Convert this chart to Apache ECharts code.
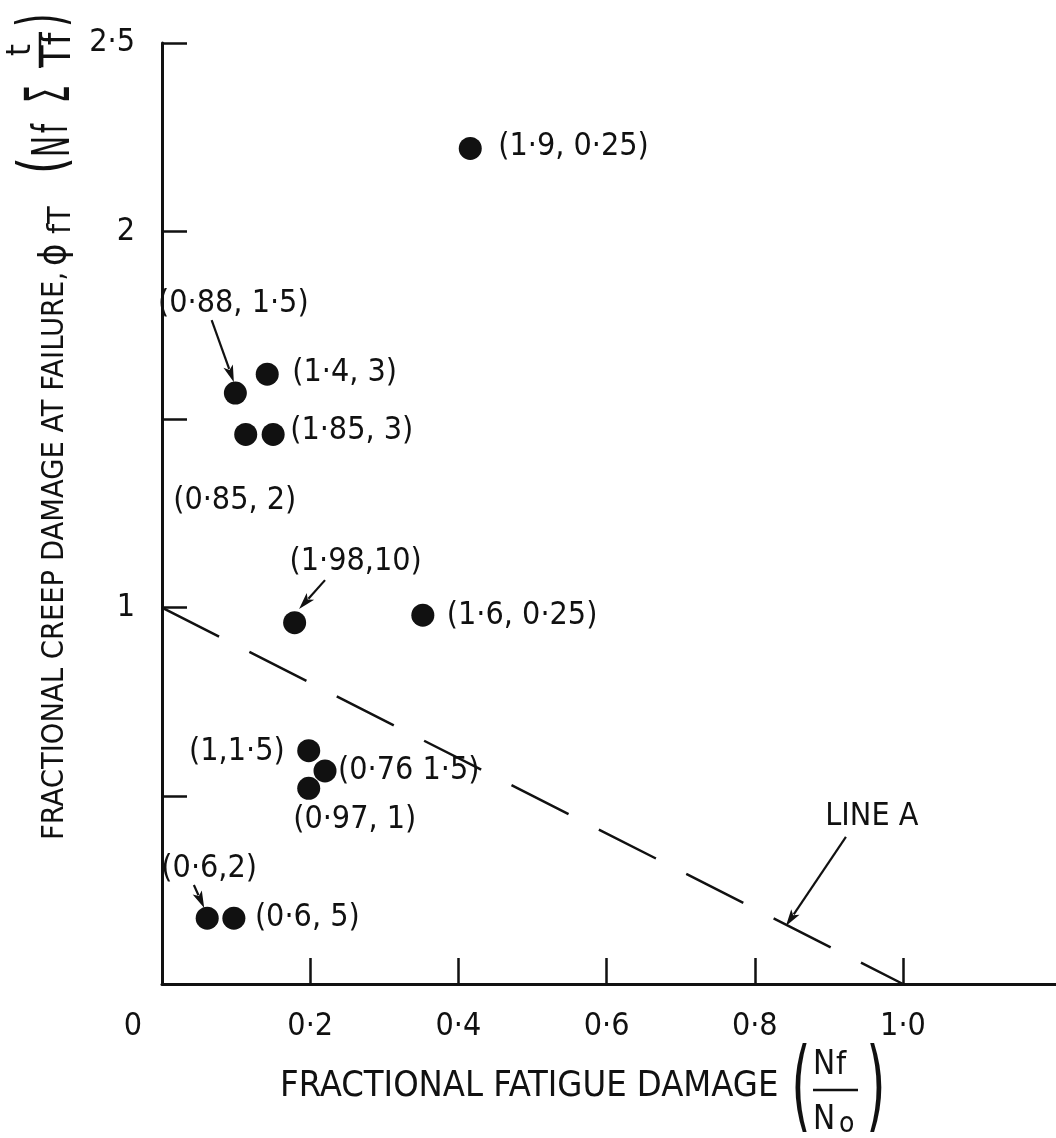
<!DOCTYPE html>
<html><head><meta charset="utf-8">
<script src="https://cdn.jsdelivr.net/npm/echarts@6/dist/echarts.min.js"></script>
<style>html,body{margin:0;padding:0;background:#fff}#c{width:1056px;height:1138px}</style>
</head><body><div id="c"></div>
<script>
// ---- data ----
const pointX = [0.416, 0.099, 0.142, 0.113, 0.150, 0.179, 0.352, 0.198, 0.220, 0.198, 0.061, 0.097];
const pointY = [2.22, 1.57, 1.62, 1.46, 1.46, 0.96, 0.98, 0.62, 0.566, 0.52, 0.175, 0.175];
const pointLabels = ['(1·9, 0·25)', '(0·88, 1·5)', '(1·4, 3)', '(0·85, 2)', '(1·85, 3)', '(1·98,10)',
  '(1·6, 0·25)', '(1,1·5)', '(0·76 1·5)', '(0·97, 1)', '(0·6,2)', '(0·6, 5)'];
const lineAX = [0, 1];
const lineAY = [1, 0];
const lineALabel = 'LINE A';
const lineALabelAt = [0.958, 0.444];
const arrowFrom = [[0.067, 1.764], [0.220, 1.073], [0.043, 0.263], [0.923, 0.391]];
const arrowTo = [[0.097, 1.599], [0.185, 0.996], [0.057, 0.202], [0.842, 0.154]];
const xTickValues = [0, 0.2, 0.4, 0.6, 0.8, 1.0];
const xTickLabels = ['0', '0·2', '0·4', '0·6', '0·8', '1·0'];
const yTickValues = [1, 2, 2.5];
const yTickLabels = ['1', '2', '2·5'];
const xTitle = 'FRACTIONAL FATIGUE DAMAGE';
const yTitle = 'FRACTIONAL CREEP DAMAGE AT FAILURE,';

// ---- styles / layout ----
const FF = '"DejaVu Sans Condensed", "DejaVu Sans", sans-serif';
const INK = '#111';
// label anchor relative to marker centre
const labelLayout = [
  {a:'left', dx:28, dy:-2}, {a:'center', dx:-2, dy:-89}, {a:'left', dx:25, dy:-2},
  {a:'center', dx:-11, dy:66}, {a:'left', dx:17, dy:-4}, {a:'center', dx:61, dy:-61},
  {a:'left', dx:24, dy:1}, {a:'right', dx:-24, dy:1}, {a:'left', dx:13, dy:0},
  {a:'center', dx:46, dy:31}, {a:'center', dx:2, dy:-49}, {a:'left', dx:21, dy:0}
];

function lookup(vals, labels, v) {
  const i = vals.findIndex(t => Math.abs(t - v) < 1e-9);
  return i < 0 ? '' : labels[i];
}

const chart = echarts.init(document.getElementById('c'));
chart.setOption({
  animation: false,
  backgroundColor: '#fff',
  grid: {left: 162, right: 0, top: 43, bottom: 154, containLabel: false, outerBoundsMode: 'none'},
  xAxis: {
    type: 'value', min: 0, max: 1.2065,
    axisLine: {lineStyle: {color: INK, width: 3}},
    axisTick: {inside: true, length: 26, customValues: xTickValues.filter(v => v > 0), lineStyle: {color: INK, width: 2.5}},
    axisLabel: {
      customValues: xTickValues, margin: 27, color: INK, fontSize: 32, fontFamily: FF,
      formatter: v => v === 0 ? '{o|' + lookup(xTickValues, xTickLabels, v) + '}' : lookup(xTickValues, xTickLabels, v),
      rich: {o: {padding: [0, 58, 0, 0], fontSize: 32, fontFamily: FF, color: INK}}
    },
    splitLine: {show: false}
  },
  yAxis: {
    type: 'value', min: 0, max: 2.5, interval: 0.5,
    axisLine: {show: true, lineStyle: {color: INK, width: 3}},
    axisTick: {show: true, inside: true, length: 25, lineStyle: {color: INK, width: 2.5}},
    axisLabel: {
      customValues: yTickValues, margin: 27, color: INK, fontSize: 32, fontFamily: FF,
      formatter: v => lookup(yTickValues, yTickLabels, v)
    },
    splitLine: {show: false}
  },
  series: [
    {
      type: 'line', name: lineALabel, z: 2,
      data: lineAX.map((x, i) => [x, lineAY[i]]),
      showSymbol: false, symbol: 'none',
      lineStyle: {color: INK, width: 2.5, type: [64, 34], opacity: 1}
    },
    {
      type: 'scatter', z: 3,
      symbolSize: 23,
      itemStyle: {color: INK, opacity: 1},
      data: pointX.map((x, i) => ({
        value: [x, pointY[i]],
        label: {
          show: true, formatter: pointLabels[i], position: 'inside',
          align: labelLayout[i].a, verticalAlign: 'middle', offset: [labelLayout[i].dx, labelLayout[i].dy],
          color: INK, opacity: 1, fontSize: 32, fontFamily: FF, textBorderWidth: 0
        }
      }))
    }
  ]
});

// ---- titles and annotation arrows ----
function txt(x, y, text, size, extra) {
  return Object.assign({type: 'text', x: x, y: y, silent: true,
    style: Object.assign({text: text, fontSize: size, fontFamily: FF, fill: INK, align: 'left', verticalAlign: 'middle'}, (extra && extra.style) || {})},
    extra && extra.el || {});
}
const g = [];
// y title (rotated group; local x runs up the page, local y runs to the right)
g.push({
  type: 'group', x: 55, y: 840, rotation: Math.PI / 2,
  children: [
    txt(0, 0, yTitle, 30.5),
    txt(574, 0, 'ϕ', 38),
    txt(606, 7, 'fT', 32),
    txt(666, -8, '(', 64, {el: {scaleX: 0.75}}),
    txt(683, 0, 'N', 52, {el: {scaleX: 0.6}}),
    txt(707, 0, 'f', 48, {el: {scaleX: 0.6}}),
    txt(737, -2, 'Σ', 62, {el: {scaleX: 0.5}}),
    txt(790, -34, 't', 34, {style: {align: 'center'}}),
    {type: 'line', shape: {x1: 772, y1: -15, x2: 808, y2: -15}, style: {stroke: INK, lineWidth: 2.5}},
    txt(790, 5, 'Tf', 40, {style: {align: 'center'}}),
    txt(813, -9, ')', 64, {el: {scaleX: 0.6}})
  ]
});
// x title
g.push(txt(280, 1087, xTitle, 36));
g.push(txt(801, 1093, '(', 100, {style: {align: 'center'}, el: {scaleX: 0.55}}));
g.push(txt(813, 1065, 'N', 33));
g.push(txt(836, 1066, 'f', 32));
g.push({type: 'line', shape: {x1: 813, y1: 1090, x2: 858, y2: 1090}, style: {stroke: INK, lineWidth: 2.5}});
g.push(txt(813, 1120, 'N', 33));
g.push(txt(839, 1125, 'o', 28));
g.push(txt(876, 1093, ')', 100, {style: {align: 'center'}, el: {scaleX: 0.55}}));
// LINE A label
const la = chart.convertToPixel({gridIndex: 0}, lineALabelAt);
g.push(txt(la[0], la[1], lineALabel, 32, {style: {align: 'center'}}));
// arrows
arrowFrom.forEach((f, i) => {
  const p0 = chart.convertToPixel({gridIndex: 0}, f);
  const p1 = chart.convertToPixel({gridIndex: 0}, arrowTo[i]);
  const dx = p1[0] - p0[0], dy = p1[1] - p0[1];
  const len = Math.sqrt(dx * dx + dy * dy), ux = dx / len, uy = dy / len;
  const hl = 17, hw = 5;
  const bx = p1[0] - ux * hl, by = p1[1] - uy * hl;
  g.push({type: 'line', silent: true, shape: {x1: p0[0], y1: p0[1], x2: bx + ux * 3, y2: by + uy * 3}, style: {stroke: INK, lineWidth: 2.2}});
  g.push({type: 'polygon', silent: true, shape: {points: [[p1[0], p1[1]], [bx - uy * hw, by + ux * hw], [bx + ux * 4, by + uy * 4], [bx + uy * hw, by - ux * hw]]}, style: {fill: INK}});
});
chart.setOption({graphic: g});
</script>
</body></html>
